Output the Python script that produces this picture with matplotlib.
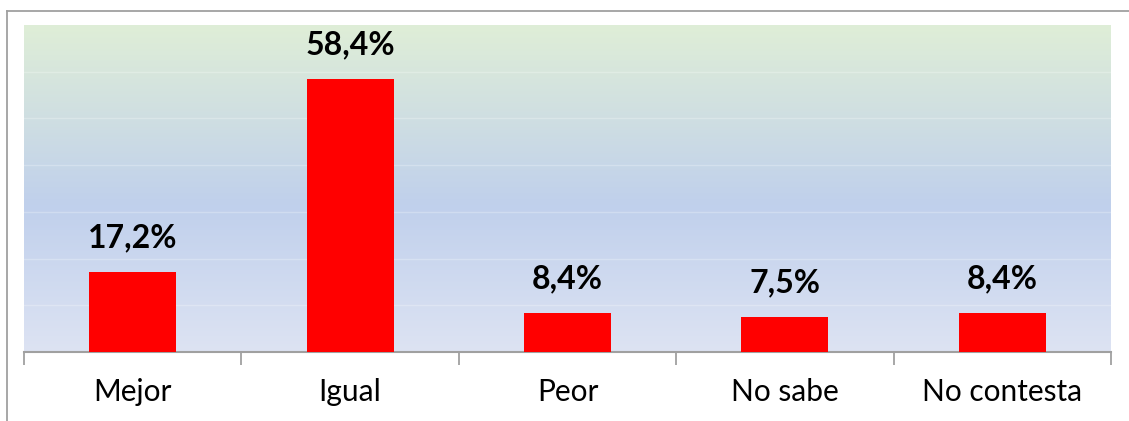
import matplotlib.pyplot as plt
import numpy as np
from matplotlib.colors import LinearSegmentedColormap
from matplotlib.lines import Line2D

# datos
categorias = ['Mejor', 'Igual', 'Peor', 'No sabe', 'No contesta']
porcentajes = [17.2, 58.4, 8.4, 7.5, 8.4]
etiquetas = ['17,2%', '58,4%', '8,4%', '7,5%', '8,4%']

plt.rcParams['font.family'] = ['Lato', 'DejaVu Sans']

fig = plt.figure(figsize=(11.29, 4.21), dpi=100)
ax = fig.add_axes([24 / 1129, 69 / 421, 1087 / 1129, 327 / 421])

x = np.arange(len(categorias))
ax.set_xlim(-0.5, len(categorias) - 0.5)
ax.set_ylim(0, 70)

# fondo degradado verde (arriba) -> azul -> azul claro (abajo)
cmap = LinearSegmentedColormap.from_list(
    'fondo', [(0.0, '#dfeed7'), (0.55, '#c0d0ec'), (1.0, '#dde3f3')])
grad = np.linspace(0, 1, 256).reshape(-1, 1)
ax.imshow(grad, cmap=cmap, aspect='auto', extent=(-0.5, 4.5, 0, 70),
          zorder=0, interpolation='bicubic')

ax.bar(x, porcentajes, width=0.4, color='#ff0000', zorder=3)

for xi, v, t in zip(x, porcentajes, etiquetas):
    ax.annotate(t, (xi, v), xytext=(0, 14), textcoords='offset points',
                ha='center', va='bottom', fontsize=23, fontweight='bold',
                color='black')

# líneas de cuadrícula
ax.set_yticks(np.arange(10, 70, 10))
ax.yaxis.grid(True, color='white', alpha=0.25, linewidth=1)
ax.set_axisbelow(False)
ax.tick_params(axis='y', left=False, labelleft=False)

# ticks en los límites de categoría, etiquetas en el centro
ax.set_xticks(np.arange(-0.5, len(categorias), 1.0))
ax.set_xticklabels([])
ax.tick_params(axis='x', which='major', length=9, width=1.3, color='#a0a0a0')
ax.set_xticks(x, minor=True)
ax.set_xticklabels(categorias, minor=True, fontsize=21.5)
ax.tick_params(axis='x', which='minor', length=0, pad=19)

for s in ['top', 'left', 'right']:
    ax.spines[s].set_visible(False)
ax.spines['bottom'].set_color('#a0a0a0')
ax.spines['bottom'].set_linewidth(1.5)

# marco exterior (solo lados izquierdo y superior visibles)
fig.add_artist(Line2D([7 / 1129, 7 / 1129], [0, 1 - 11 / 421],
                      transform=fig.transFigure, color='#a0a0a0', linewidth=1.3))
fig.add_artist(Line2D([7 / 1129, 1], [1 - 11 / 421, 1 - 11 / 421],
                      transform=fig.transFigure, color='#a0a0a0', linewidth=1.3))

fig.savefig('out.png', dpi=100)
